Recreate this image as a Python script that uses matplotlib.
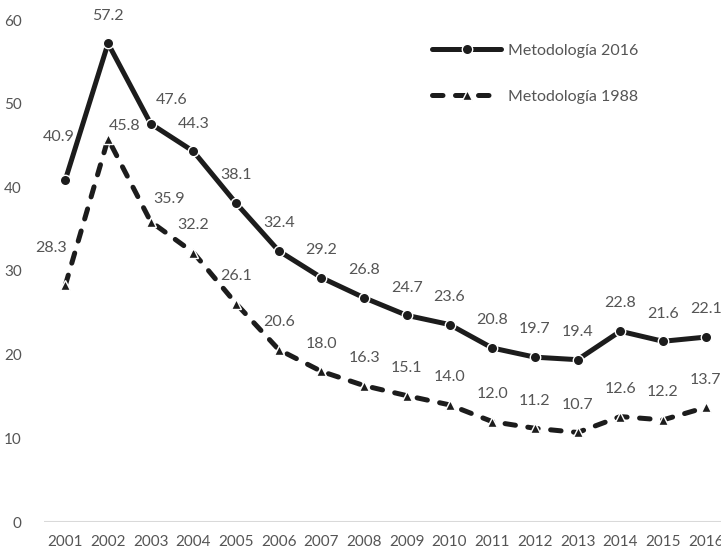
import matplotlib
matplotlib.use("Agg")
import matplotlib.pyplot as plt
import numpy as np

years = ['2001', '2002', '2003', '2004', '2005', '2006', '2007', '2008',
         '2009', '2010', '2011', '2012', '2013', '2014', '2015', '2016']
met_2016 = [40.9, 57.2, 47.6, 44.3, 38.1, 32.4, 29.2, 26.8,
            24.7, 23.6, 20.8, 19.7, 19.4, 22.8, 21.6, 22.1]
met_1988 = [28.3, 45.8, 35.9, 32.2, 26.1, 20.6, 18.0, 16.3,
            15.1, 14.0, 12.0, 11.2, 10.7, 12.6, 12.2, 13.7]

# label offsets in points (most labels sit straight above the point)
off_2016 = {0: (-5, -31), 2: (15, -17)}
off_1988 = {0: (-10, -27), 1: (12, -9), 2: (13, -16)}

plt.rcParams['font.family'] = ['Lato', 'DejaVu Sans']
txt = '#555555'
ink = '#1c1c1c'
fs = 11.5

fig = plt.figure(figsize=(7.21, 5.5), dpi=100)
ax = fig.add_axes([44 / 721, 28 / 550, 683 / 721, 502 / 550])

x = np.arange(len(years))

ax.plot(x, met_2016, color=ink, lw=3.6, marker='o', ms=7.5,
        mfc=ink, mec='white', mew=1.0, solid_capstyle='round',
        label='Metodología 2016', zorder=3)
l2, = ax.plot(x, met_1988, color=ink, lw=3.6, marker='^', ms=7.5,
              mfc=ink, mec='white', mew=1.0, dash_capstyle='round',
              label='Metodología 1988', zorder=3)
l2.set_dashes((2.1, 2.5))

for i, v in enumerate(met_2016):
    dx, dy = off_2016.get(i, (0, -20))
    ax.annotate(f'{v:.1f}', (i, v), xytext=(dx, -dy), textcoords='offset points',
                ha='center', va='center', fontsize=fs, color=txt)
for i, v in enumerate(met_1988):
    dx, dy = off_1988.get(i, (0, -20))
    ax.annotate(f'{v:.1f}', (i, v), xytext=(dx, -dy), textcoords='offset points',
                ha='center', va='center', fontsize=fs, color=txt)

ax.set_xlim(-0.5, len(years) - 0.5)
ax.set_ylim(0, 60)
ax.set_xticks(x)
ax.set_xticklabels(years)
ax.set_yticks(range(0, 61, 10))
ax.tick_params(axis='both', length=0, labelsize=11, labelcolor=txt)
ax.tick_params(axis='y', pad=16)
ax.tick_params(axis='x', pad=9)

for s in ax.spines.values():
    s.set_visible(False)
ax.axhline(0, color='#d9d9d9', lw=1.5, zorder=1)

ax.legend(loc='upper left', bbox_to_anchor=(418 / 721, 1 - 29 / 550),
          bbox_transform=fig.transFigure, frameon=False, fontsize=fs,
          handlelength=4.3, labelspacing=2.0, handletextpad=0.45,
          labelcolor=txt)

fig.savefig('out.png', dpi=100)
